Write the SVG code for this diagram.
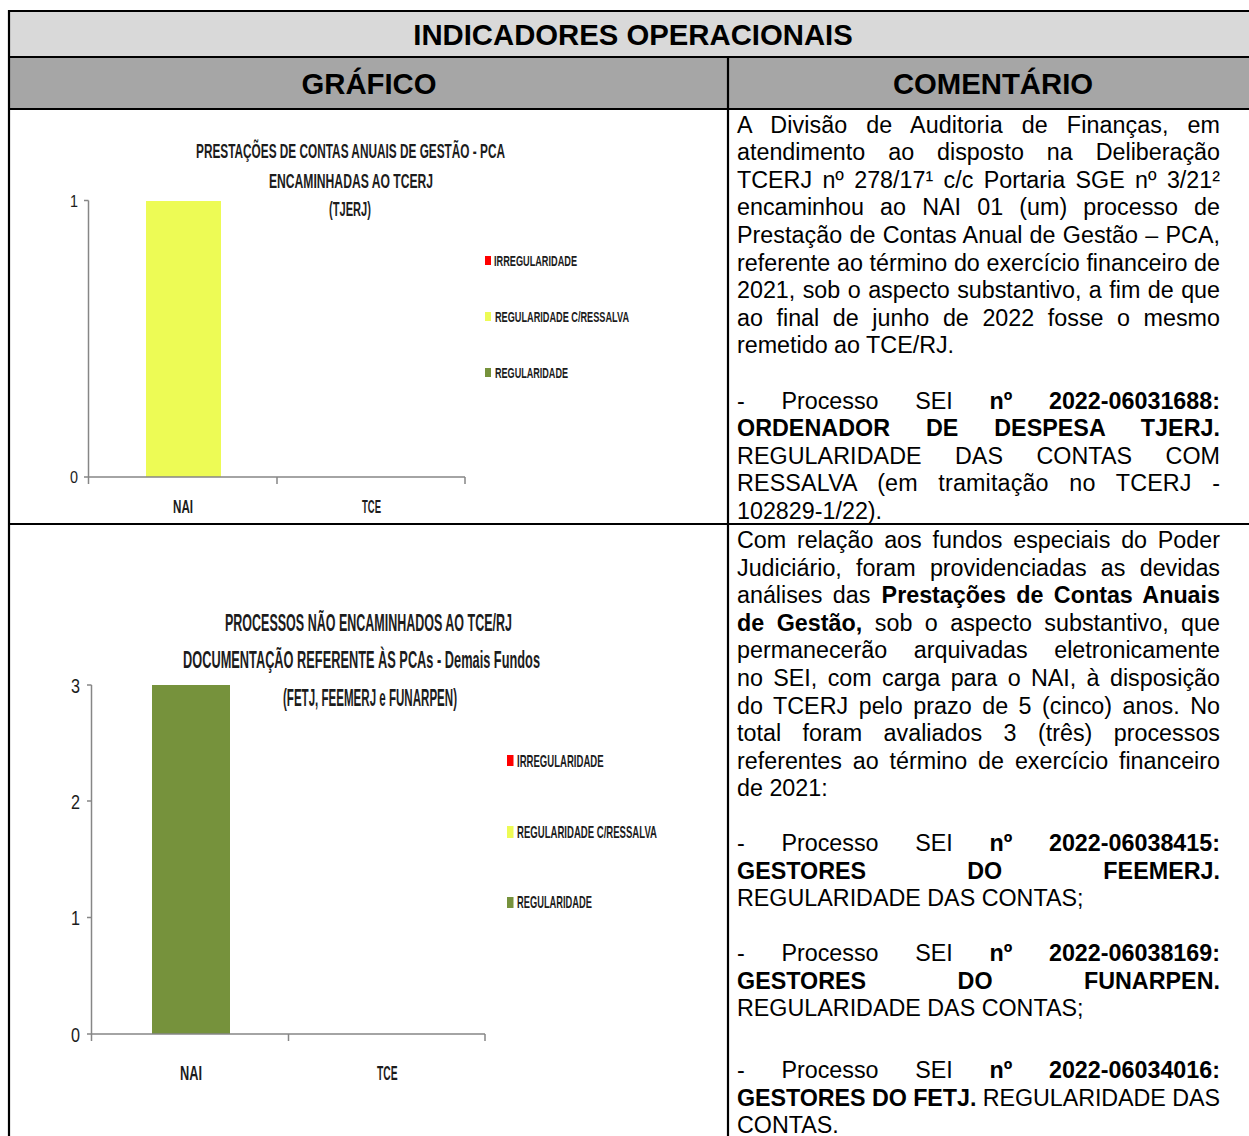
<svg xmlns="http://www.w3.org/2000/svg" width="1249" height="1136" viewBox="0 0 1249 1136">
<style>
.h{font-family:"Liberation Sans",Arial,sans-serif;font-weight:bold;font-size:29.3px;fill:#000;text-anchor:middle}
.c{font-family:"Liberation Sans",Arial,sans-serif;font-size:23.3px;fill:#000}
.b{font-weight:bold}
.e{text-anchor:end}
.ct{font-family:"Liberation Sans",Arial,sans-serif;font-weight:bold;fill:#1c1c1c}
.n{font-family:"Liberation Sans",Arial,sans-serif;fill:#1c1c1c}
.ax{stroke:#868686;stroke-width:1.5;fill:none}
.grid{stroke:#000;stroke-width:2.2;fill:none}
.red{fill:#ff0000}
.yel{fill:#edfb55}
.grn{fill:#76923c}
</style>
<rect width="1249" height="1136" fill="#fff"/>
<g id="table">
<rect x="9" y="11" width="1240" height="46" fill="#d9d9d9"/>
<rect x="9" y="57" width="1240" height="52" fill="#a6a6a6"/>
<line class="grid" x1="9" y1="11" x2="1249" y2="11"/>
<line class="grid" x1="9" y1="57" x2="1249" y2="57"/>
<line class="grid" x1="9" y1="109" x2="1249" y2="109"/>
<line class="grid" x1="9" y1="524" x2="1249" y2="524"/>
<line class="grid" x1="9" y1="10" x2="9" y2="1136"/>
<line class="grid" x1="728" y1="57" x2="728" y2="1136"/>
</g>
<g id="header">
<text class="h" x="633" y="45">INDICADORES OPERACIONAIS</text>
<text class="h" x="369" y="94">GRÁFICO</text>
<text class="h" x="993" y="94">COMENTÁRIO</text>
</g>
<g id="chart1">
<rect class="yel" x="146" y="201" width="75" height="276"/>
<line class="ax" x1="88.5" y1="200.5" x2="88.5" y2="477"/>
<line class="ax" x1="84" y1="200.5" x2="88.5" y2="200.5"/>
<line class="ax" x1="84" y1="477" x2="465" y2="477"/>
<line class="ax" x1="88.5" y1="477" x2="88.5" y2="484"/>
<line class="ax" x1="277" y1="477" x2="277" y2="484"/>
<line class="ax" x1="465" y1="477" x2="465" y2="484"/>
<text class="n" x="70" y="207" font-size="17" textLength="8" lengthAdjust="spacingAndGlyphs">1</text>
<text class="n" x="70" y="483" font-size="17" textLength="8" lengthAdjust="spacingAndGlyphs">0</text>
<text class="ct" x="173" y="513" font-size="18" textLength="20" lengthAdjust="spacingAndGlyphs">NAI</text>
<text class="ct" x="362" y="513" font-size="18" textLength="19" lengthAdjust="spacingAndGlyphs">TCE</text>
<text class="ct" x="196" y="158" font-size="21" textLength="309" lengthAdjust="spacingAndGlyphs">PRESTAÇÕES DE CONTAS ANUAIS DE GESTÃO - PCA</text>
<text class="ct" x="269" y="188" font-size="21" textLength="164" lengthAdjust="spacingAndGlyphs">ENCAMINHADAS AO TCERJ</text>
<text class="ct" x="329" y="216" font-size="21" textLength="42" lengthAdjust="spacingAndGlyphs">(TJERJ)</text>
<rect class="red" x="485" y="256" width="6" height="9"/>
<text class="ct" x="494" y="266" font-size="15" textLength="83" lengthAdjust="spacingAndGlyphs">IRREGULARIDADE</text>
<rect class="yel" x="485" y="312" width="6" height="9"/>
<text class="ct" x="495" y="322" font-size="15" textLength="134" lengthAdjust="spacingAndGlyphs">REGULARIDADE C/RESSALVA</text>
<rect class="grn" x="485" y="368" width="6" height="9"/>
<text class="ct" x="495" y="378" font-size="15" textLength="73" lengthAdjust="spacingAndGlyphs">REGULARIDADE</text>
</g>
<g id="chart2">
<rect class="grn" x="152" y="685" width="78" height="349"/>
<line class="ax" x1="91.5" y1="685" x2="91.5" y2="1034"/>
<line class="ax" x1="87" y1="685" x2="91.5" y2="685"/>
<line class="ax" x1="87" y1="801" x2="91.5" y2="801"/>
<line class="ax" x1="87" y1="917.5" x2="91.5" y2="917.5"/>
<line class="ax" x1="87" y1="1034" x2="485" y2="1034"/>
<line class="ax" x1="91.5" y1="1034" x2="91.5" y2="1041"/>
<line class="ax" x1="288.5" y1="1034" x2="288.5" y2="1041"/>
<line class="ax" x1="485" y1="1034" x2="485" y2="1041"/>
<text class="n" x="71" y="692.5" font-size="20" textLength="9" lengthAdjust="spacingAndGlyphs">3</text>
<text class="n" x="71" y="809" font-size="20" textLength="9" lengthAdjust="spacingAndGlyphs">2</text>
<text class="n" x="71" y="925" font-size="20" textLength="9" lengthAdjust="spacingAndGlyphs">1</text>
<text class="n" x="71" y="1042" font-size="20" textLength="9" lengthAdjust="spacingAndGlyphs">0</text>
<text class="ct" x="180" y="1080" font-size="20" textLength="22" lengthAdjust="spacingAndGlyphs">NAI</text>
<text class="ct" x="377" y="1080" font-size="20" textLength="20.5" lengthAdjust="spacingAndGlyphs">TCE</text>
<text class="ct" x="225" y="631" font-size="24" textLength="287" lengthAdjust="spacingAndGlyphs">PROCESSOS NÃO ENCAMINHADOS AO TCE/RJ</text>
<text class="ct" x="183" y="668" font-size="24" textLength="357" lengthAdjust="spacingAndGlyphs">DOCUMENTAÇÃO REFERENTE ÀS PCAs - Demais Fundos</text>
<text class="ct" x="283" y="706" font-size="24" textLength="174" lengthAdjust="spacingAndGlyphs">(FETJ, FEEMERJ e FUNARPEN)</text>
<rect class="red" x="507" y="755" width="6.5" height="11"/>
<text class="ct" x="517" y="767" font-size="17" textLength="86.6" lengthAdjust="spacingAndGlyphs">IRREGULARIDADE</text>
<rect class="yel" x="507" y="826" width="6.5" height="12"/>
<text class="ct" x="517" y="838" font-size="17" textLength="140" lengthAdjust="spacingAndGlyphs">REGULARIDADE C/RESSALVA</text>
<rect class="grn" x="507" y="897" width="6.5" height="11"/>
<text class="ct" x="517" y="908" font-size="17" textLength="75" lengthAdjust="spacingAndGlyphs">REGULARIDADE</text>
</g>
<g id="comment1">
<text class="c" x="737" y="132.5" word-spacing="12.5" textLength="483" lengthAdjust="spacing">A Divisão de Auditoria de Finanças, em</text>
<text class="c" x="737" y="160.1" word-spacing="16.5" textLength="483" lengthAdjust="spacing">atendimento ao disposto na Deliberação</text>
<text class="c" x="737" y="187.7" word-spacing="3.9" textLength="483" lengthAdjust="spacing">TCERJ nº 278/17¹ c/c Portaria SGE nº 3/21²</text>
<text class="c" x="737" y="215.3" word-spacing="9.7" textLength="483" lengthAdjust="spacing">encaminhou ao NAI 01 (um) processo de</text>
<text class="c" x="737" y="242.9" word-spacing="0.7" textLength="483" lengthAdjust="spacing">Prestação de Contas Anual de Gestão – PCA,</text>
<text class="c" x="737" y="270.5" word-spacing="0.2" textLength="483" lengthAdjust="spacing">referente ao término do exercício financeiro de</text>
<text class="c" x="737" y="298.1" word-spacing="1" textLength="483" lengthAdjust="spacing">2021, sob o aspecto substantivo, a fim de que</text>
<text class="c" x="737" y="325.7" word-spacing="7.1" textLength="483" lengthAdjust="spacing">ao final de junho de 2022 fosse o mesmo</text>
<text class="c" x="737" y="353.3">remetido ao TCE/RJ.</text>
<text class="c" x="737" y="408.5" word-spacing="30.2" textLength="483" lengthAdjust="spacing">- Processo SEI <tspan class="b">nº 2022-06031688:</tspan></text>
<text class="c b" x="737" y="436.1" word-spacing="29.4" textLength="483" lengthAdjust="spacing">ORDENADOR DE DESPESA TJERJ.</text>
<text class="c" x="737" y="463.7" word-spacing="26.8" textLength="483" lengthAdjust="spacing">REGULARIDADE DAS CONTAS COM</text>
<text class="c" x="737" y="491.3" word-spacing="14" textLength="483" lengthAdjust="spacing">RESSALVA (em tramitação no TCERJ -</text>
<text class="c" x="737" y="518.9">102829-1/22).</text>
</g>
<g id="comment2">
<text class="c" x="737" y="548" word-spacing="4.3" textLength="483" lengthAdjust="spacing">Com relação aos fundos especiais do Poder</text>
<text class="c" x="737" y="575.6" word-spacing="7.8" textLength="483" lengthAdjust="spacing">Judiciário, foram providenciadas as devidas</text>
<text class="c" x="737" y="603.2" word-spacing="3.9">análises das</text>
<text class="c b e" x="1220" y="603.2" word-spacing="3.9">Prestações de Contas Anuais</text>
<text class="c b" x="737" y="630.8" word-spacing="6">de Gestão,</text>
<text class="c e" x="1220" y="630.8" word-spacing="6">sob o aspecto substantivo, que</text>
<text class="c" x="737" y="658.4" word-spacing="20" textLength="483" lengthAdjust="spacing">permanecerão arquivadas eletronicamente</text>
<text class="c" x="737" y="686" word-spacing="3.9" textLength="483" lengthAdjust="spacing">no SEI, com carga para o NAI, à disposição</text>
<text class="c" x="737" y="713.6" word-spacing="4" textLength="483" lengthAdjust="spacing">do TCERJ pelo prazo de 5 (cinco) anos. No</text>
<text class="c" x="737" y="741.2" word-spacing="15" textLength="483" lengthAdjust="spacing">total foram avaliados 3 (três) processos</text>
<text class="c" x="737" y="768.8" word-spacing="4.4" textLength="483" lengthAdjust="spacing">referentes ao término de exercício financeiro</text>
<text class="c" x="737" y="796.4">de 2021:</text>
<text class="c" x="737" y="851" word-spacing="30.2" textLength="483" lengthAdjust="spacing">- Processo SEI <tspan class="b">nº 2022-06038415:</tspan></text>
<text class="c b" x="737" y="878.6" word-spacing="94.6" textLength="483" lengthAdjust="spacing">GESTORES DO FEEMERJ.</text>
<text class="c" x="737" y="906.2">REGULARIDADE DAS CONTAS;</text>
<text class="c" x="737" y="961" word-spacing="30.2" textLength="483" lengthAdjust="spacing">- Processo SEI <tspan class="b">nº 2022-06038169:</tspan></text>
<text class="c b" x="737" y="988.6" word-spacing="84.9" textLength="483" lengthAdjust="spacing">GESTORES DO FUNARPEN.</text>
<text class="c" x="737" y="1016.2">REGULARIDADE DAS CONTAS;</text>
<text class="c" x="737" y="1078" word-spacing="30.2" textLength="483" lengthAdjust="spacing">- Processo SEI <tspan class="b">nº 2022-06034016:</tspan></text>
<text class="c" x="737" y="1105.6" word-spacing="0" textLength="483" lengthAdjust="spacing"><tspan class="b">GESTORES DO FETJ.</tspan> REGULARIDADE DAS</text>
<text class="c" x="737" y="1133.2">CONTAS.</text>
</g>
</svg>
